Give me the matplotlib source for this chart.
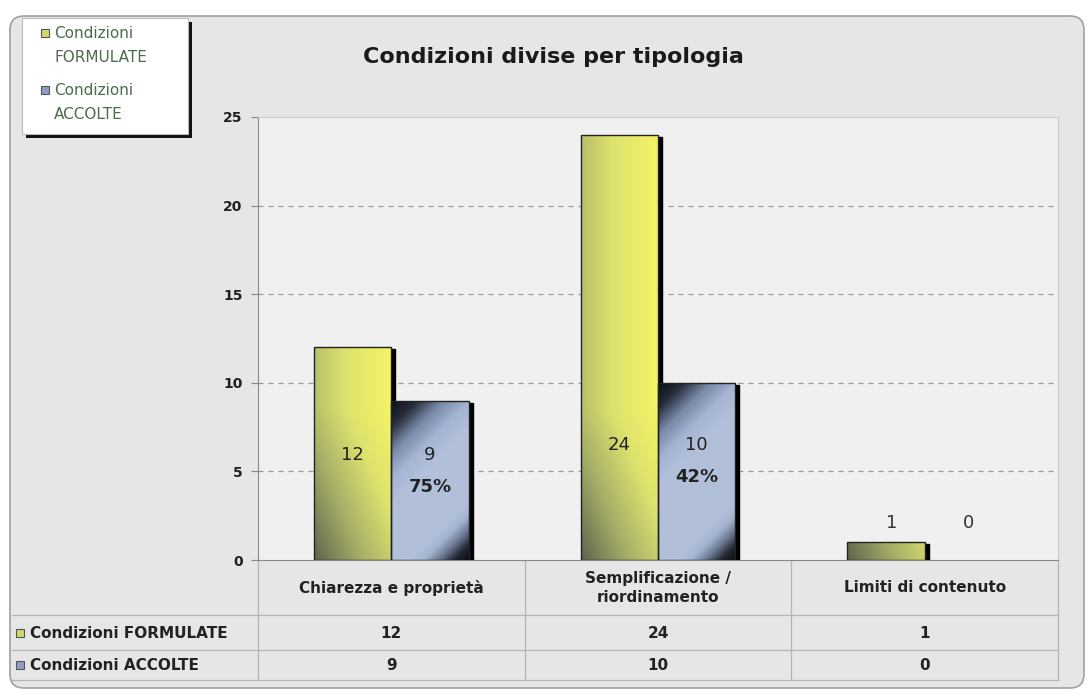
import numpy as np
import matplotlib.pyplot as plt
from matplotlib.patches import FancyBboxPatch, Rectangle
from matplotlib.colors import LinearSegmentedColormap

plt.rcParams['font.family'] = ['DejaVu Sans']

# dati
categorie = ['Chiarezza e proprietà', 'Semplificazione /\nriordinamento', 'Limiti di contenuto']
formulate = [12, 24, 1]
accolte = [9, 10, 0]
serie = ['Condizioni FORMULATE', 'Condizioni ACCOLTE']
yticks = [0, 5, 10, 15, 20, 25]

W, H = 1090, 696
fig = plt.figure(figsize=(W / 100, H / 100), dpi=100)
fig.patch.set_facecolor('white')

# livello di disegno in pixel per cornice, legenda e tabella
bg = fig.add_axes([0, 0, 1, 1])
bg.set_xlim(0, W)
bg.set_ylim(H, 0)
bg.axis('off')

bg.add_patch(FancyBboxPatch((10, 16), 1074, 672, boxstyle='round,pad=0,rounding_size=14',
                            facecolor='#e6e6e6', edgecolor='#a0a0a0', lw=1.2, zorder=0))

# area del grafico
L, R, T, B = 258, 1058, 117, 560
ax = fig.add_axes([L / W, 1 - B / H, (R - L) / W, (B - T) / H])
ax.set_facecolor('#f0f0f0')
ax.set_xlim(-0.5, 2.5)
ax.set_ylim(0, 25)
ax.set_yticks(yticks)
ax.set_yticklabels([str(v) for v in yticks], fontsize=10, fontweight='bold', color='#222222')
ax.set_xticks([])
ax.tick_params(axis='y', length=5, width=0.8, color='#888888', pad=6)
for s in ['top', 'right']:
    ax.spines[s].set_color('#cccccc')
ax.spines['left'].set_color('#888888')
ax.spines['bottom'].set_color('#888888')
for v in yticks[1:-1]:
    ax.axhline(v, color='#9a9a9a', lw=0.9, ls=(0, (4, 4)), zorder=1)

x = np.arange(len(categorie))
bw = 0.29
cm_verde = LinearSegmentedColormap.from_list('verde', ['#5e654c', '#a6ad68', '#dde26e', '#f5f466'])
cm_blu = LinearSegmentedColormap.from_list('blu', ['#0a0c10', '#262d3a', '#7888a6', '#a4b4d2', '#b2c0da',
                                                   '#a4b4d2', '#6a7890', '#222834', '#0a0c10'])

px_x = (R - L) / 3.0
px_y = (B - T) / 25.0


def riempi(bar, tipo):
    x0, w, h = bar.get_x(), bar.get_width(), bar.get_height()
    if h <= 0:
        bar.set_visible(False)
        return
    wp, hp = max(int(w * px_x), 2), max(int(h * px_y), 2)
    xx, yy = np.meshgrid(np.arange(wp), np.arange(hp)[::-1])
    if tipo == 'verde':
        t = 0.55 * xx / wp + 0.45 * np.minimum(yy / 150.0, 1)
        cmap = cm_verde
    else:
        s = xx - yy
        t = np.full(s.shape, 0.5)
        top = s + hp
        t = np.where(top < 105, 0.5 * top / 105, t)
        bot = wp - s
        t = np.where(bot < 60, 1 - 0.5 * bot / 60, t)
        cmap = cm_blu
    # ombra laterale
    ax.add_patch(Rectangle((x0 + w, 0), 4 / px_x, h - 2 / px_y, color='black', zorder=2))
    im = ax.imshow(t, cmap=cmap, vmin=0, vmax=1, extent=(x0, x0 + w, 0, h),
                   aspect='auto', zorder=3, interpolation='bilinear')
    im.set_clip_path(bar)


bars_f = ax.bar(x - bw / 2, formulate, bw, facecolor='none', edgecolor='#222222', lw=1.0, zorder=4)
bars_a = ax.bar(x + bw / 2, accolte, bw, facecolor='none', edgecolor='#222222', lw=1.0, zorder=4)
for b in bars_f:
    riempi(b, 'verde')
for b in bars_a:
    riempi(b, 'blu')
ax.set_xlim(-0.5, 2.5)
ax.set_ylim(0, 25)

# etichette dei valori
for i in range(len(categorie)):
    f, a = formulate[i], accolte[i]
    if f >= 5:
        yl = 5.9 if f < 20 else 6.5
        ax.text(x[i] - bw / 2, yl, str(f), ha='center', va='center', fontsize=13, color='#222222', zorder=5)
        ax.text(x[i] + bw / 2, yl, str(a), ha='center', va='center', fontsize=13, color='#222222', zorder=5)
        ax.text(x[i] + bw / 2, yl - 1.8, f'{round(100 * a / f)}%', ha='center', va='center',
                fontsize=13, fontweight='bold', color='#222222', zorder=5)
    else:
        ax.text(x[i] - bw / 2 + 0.02, f + 1.1, str(f), ha='center', va='center', fontsize=13, color='#333333')
        ax.text(x[i] + bw / 2 + 0.02, f + 1.1, str(a), ha='center', va='center', fontsize=13, color='#333333')

# titolo
bg.text(553, 57, 'Condizioni divise per tipologia', ha='center', va='center',
        fontsize=16, fontweight='bold', color='#1a1a1a')

# legenda
bg.add_patch(Rectangle((26, 22), 166, 116, facecolor='#111111', zorder=1))
bg.add_patch(Rectangle((22, 18), 166, 116, facecolor='white', edgecolor='#bbbbbb', lw=0.8, zorder=2))
colori = ['#d2d86a', '#8e9fc6']
for k, (nome, c) in enumerate(zip(['Condizioni\nFORMULATE', 'Condizioni\nACCOLTE'], colori)):
    y0 = 33 + 57 * k
    bg.add_patch(Rectangle((41, y0 - 4), 8, 8, facecolor=c, edgecolor='#555555', lw=0.8, zorder=3))
    bg.text(54, y0 - 7, nome, ha='left', va='top', fontsize=11, color='#4d6b4d',
            linespacing=1.75, zorder=3)

# tabella dati
lc = '#b5b5b5'
for xv in [L, L + px_x, L + 2 * px_x, R]:
    bg.plot([xv, xv], [B, 680], color=lc, lw=0.9)
for yv in [615, 650, 680]:
    bg.plot([12, R], [yv, yv], color=lc, lw=0.9)
for i, cat in enumerate(categorie):
    xc = L + px_x * (i + 0.5)
    bg.text(xc, 588, cat, ha='center', va='center', fontsize=11, fontweight='bold',
            color='#222222', linespacing=1.35)
    bg.text(xc, 633, str(formulate[i]), ha='center', va='center', fontsize=11,
            fontweight='bold', color='#222222')
    bg.text(xc, 665, str(accolte[i]), ha='center', va='center', fontsize=11,
            fontweight='bold', color='#222222')
for k, (nome, c, yv) in enumerate(zip(serie, colori, [633, 665])):
    bg.add_patch(Rectangle((16, yv - 4), 8, 8, facecolor=c, edgecolor='#555555', lw=0.8))
    bg.text(30, yv, nome, ha='left', va='center', fontsize=11, fontweight='bold', color='#222222')

fig.savefig('out.png', dpi=100, facecolor=fig.get_facecolor())
